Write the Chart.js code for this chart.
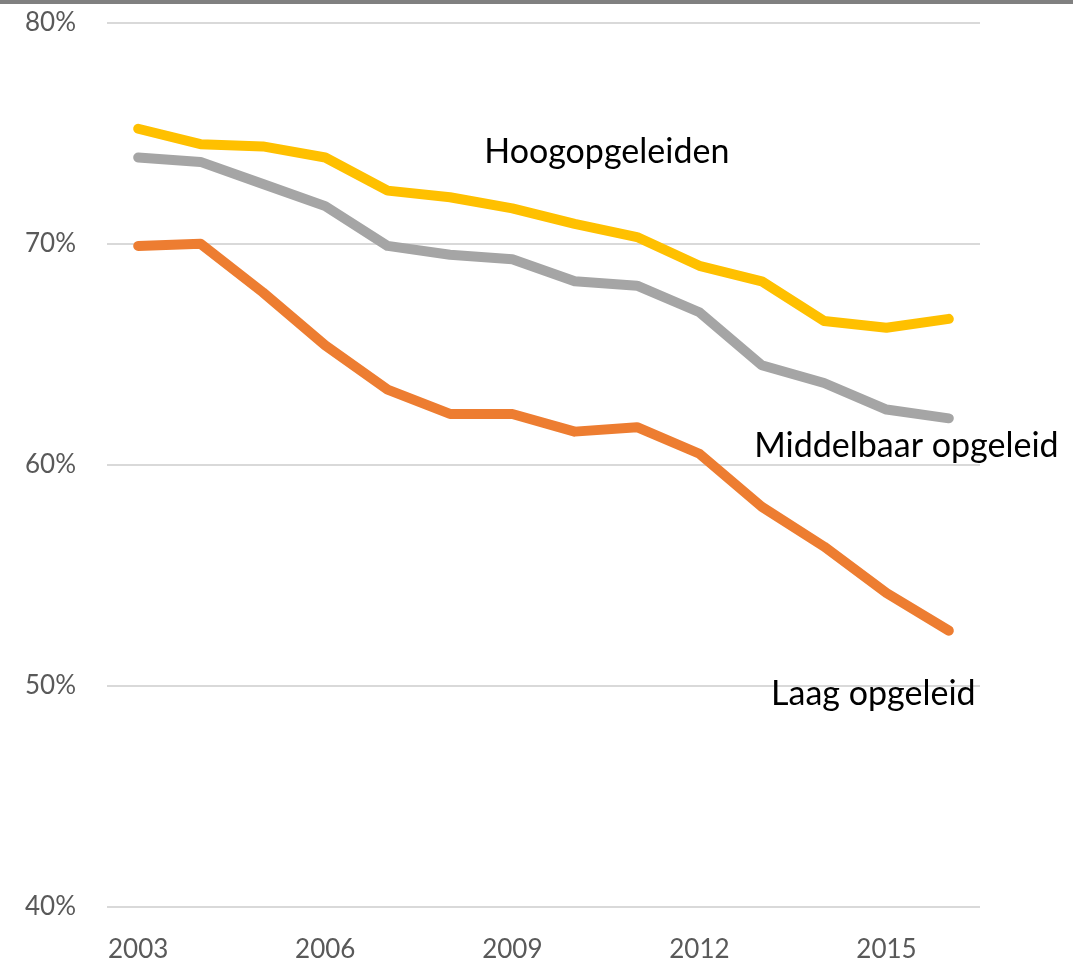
<!DOCTYPE html>
<html>
<head>
<meta charset="utf-8">
<script src="https://cdn.jsdelivr.net/npm/chart.js@4"></script>
<style>
  html, body { margin: 0; padding: 0; background: #fff; }
  #topbar { position: absolute; left: 0; top: 0; width: 1073px; height: 4px; background: #808080; }
  #wrap { position: relative; width: 1073px; height: 960px; overflow: hidden; }
  #myChart { display: block; margin-top: -24px; }
</style>
</head>
<body>
<div id="wrap">
  <canvas id="myChart" width="1073" height="984"></canvas>
  <div id="topbar"></div>
</div>
<script>
  const years = ["2003", "2004", "2005", "2006", "2007", "2008", "2009", "2010", "2011", "2012", "2013", "2014", "2015", "2016"];
  const hoog = [75.2, 74.5, 74.4, 73.9, 72.4, 72.1, 71.6, 70.9, 70.3, 69.0, 68.3, 66.5, 66.2, 66.6];
  const middel = [73.9, 73.7, 72.7, 71.7, 69.9, 69.5, 69.3, 68.3, 68.1, 66.9, 64.5, 63.7, 62.5, 62.1];
  const laag = [69.9, 70.0, 67.8, 65.4, 63.4, 62.3, 62.3, 61.5, 61.7, 60.5, 58.1, 56.3, 54.2, 52.5];
  const yTicks = [40, 50, 60, 70, 80];

  // series labels, anchored in data space: [category index, value]
  const seriesLabels = [
    { text: "Hoogopgeleiden", at: [5.55, 73.65] },
    { text: "Middelbaar opgeleid", at: [9.88, 60.35] },
    { text: "Laag opgeleid", at: [10.15, 49.15] }
  ];

  const labelPlugin = {
    id: "seriesLabels",
    afterDatasetsDraw(chart) {
      const ctx = chart.ctx;
      const xs = chart.scales.x, ys = chart.scales.y;
      ctx.save();
      ctx.font = "34px Lato";
      ctx.fillStyle = "#000";
      ctx.textAlign = "left";
      ctx.textBaseline = "alphabetic";
      seriesLabels.forEach(l => {
        ctx.fillText(l.text, xs.getPixelForValue(l.at[0]), ys.getPixelForValue(l.at[1]));
      });
      ctx.restore();
    }
  };

  function line(data, color) {
    return {
      data: data,
      borderColor: color,
      backgroundColor: color,
      borderWidth: 10,
      borderCapStyle: "round",
      borderJoinStyle: "round",
      pointRadius: 0,
      tension: 0,
      clip: false
    };
  }

  const ctx = document.getElementById("myChart").getContext("2d");
  const chart = new Chart(ctx, {
    type: "line",
    data: {
      labels: years,
      datasets: [line(hoog, "#FFC000"), line(middel, "#A5A5A5"), line(laag, "#ED7D31")]
    },
    options: {
      responsive: false,
      animation: false,
      layout: { padding: { top: 0, right: 93, bottom: 0, left: 0 } },
      plugins: { legend: { display: false }, tooltip: { enabled: false } },
      scales: {
        x: {
          offset: true,
          border: { display: false },
          grid: { display: false, drawTicks: false },
          ticks: {
            autoSkip: false,
            maxRotation: 0,
            padding: 27,
            color: "#595959",
            font: { family: "Lato", size: 26 },
            callback: (v, i) => (i % 3 === 0 ? years[i] : "")
          },
          afterFit: s => { s.height = 53; }
        },
        y: {
          min: 40,
          max: 80,
          border: { display: false },
          grid: { color: "#d9d9d9", lineWidth: 2, drawTicks: false },
          afterBuildTicks: s => { s.ticks = yTicks.map(v => ({ value: v })); },
          ticks: {
            padding: 31,
            color: "#595959",
            font: { family: "Lato", size: 26 },
            callback: v => v + "%"
          },
          afterFit: s => { s.width = 107; }
        }
      }
    },
    plugins: [labelPlugin]
  });
</script>
</body>
</html>
